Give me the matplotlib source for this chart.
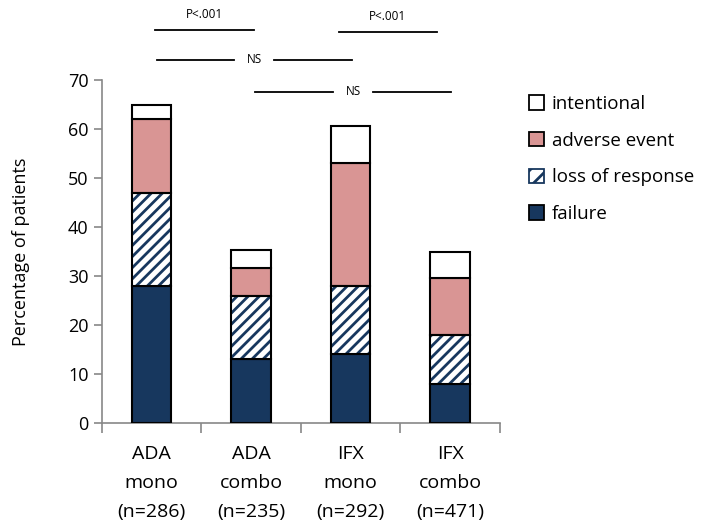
import matplotlib
matplotlib.use('Agg')
import matplotlib.pyplot as plt
import numpy as np
from matplotlib.patches import Patch

categories = ['ADA\nmono\n(n=286)', 'ADA\ncombo\n(n=235)', 'IFX\nmono\n(n=292)', 'IFX\ncombo\n(n=471)']
failure = [28, 13, 14, 8]
loss_of_response = [19, 13, 14, 10]
adverse_event = [15, 5.7, 25, 11.6]
intentional = [2.8, 3.6, 7.6, 5.2]
y_ticks = [0, 10, 20, 30, 40, 50, 60, 70]

NAVY = '#17375e'
PINK = '#d99594'

plt.rcParams['font.family'] = ['Open Sans', 'DejaVu Sans']
plt.rcParams['hatch.linewidth'] = 2.0

fig = plt.figure(figsize=(7.07, 5.31), dpi=100)
ax = fig.add_axes([0.144, 0.2034, 0.563, 0.646])

x = np.arange(len(categories))
w = 0.4
b1 = np.array(failure)
b2 = b1 + np.array(loss_of_response)
b3 = b2 + np.array(adverse_event)

ax.bar(x, failure, w, color=NAVY, edgecolor='black', lw=1.5, zorder=3)
# hatched layer: navy stripes, then a black outline on top
ax.bar(x, loss_of_response, w, bottom=b1, color='white', edgecolor=NAVY, hatch='///', lw=0, zorder=3)
ax.bar(x, loss_of_response, w, bottom=b1, fill=False, edgecolor='black', lw=1.5, zorder=4)
ax.bar(x, adverse_event, w, bottom=b2, color=PINK, edgecolor='black', lw=1.5, zorder=3)
ax.bar(x, intentional, w, bottom=b3, color='white', edgecolor='black', lw=1.5, zorder=3)

ax.set_xlim(-0.5, 3.5)
ax.set_ylim(0, 70)
ax.set_yticks(y_ticks)
ax.tick_params(axis='y', labelsize=13, colors='#888888', labelcolor='black', length=6, width=1.2)
ax.set_xticks([-0.5, 0.5, 1.5, 2.5, 3.5])
ax.set_xticklabels([])
ax.set_xticks(x, minor=True)
ax.set_xticklabels(categories, minor=True, fontsize=14, linespacing=1.78)
ax.tick_params(axis='x', which='major', colors='#888888', length=7, width=1.2)
ax.tick_params(axis='x', which='minor', length=0, pad=16)
for s in ['top', 'right']:
    ax.spines[s].set_visible(False)
for s in ['left', 'bottom']:
    ax.spines[s].set_color('#888888')
    ax.spines[s].set_linewidth(1.2)
ax.set_ylabel('Percentage of patients', fontsize=13, labelpad=27)

# significance brackets above the bars
def sig_line(x0, x1, y, label, split):
    if split:
        xm = (x0 + x1) / 2
        ax.plot([x0, xm - 0.2], [y, y], color='black', lw=1.3, clip_on=False)
        ax.plot([xm + 0.2, x1], [y, y], color='black', lw=1.3, clip_on=False)
        ax.text(xm, y, label, ha='center', va='center', fontsize=8.5)
    else:
        ax.plot([x0, x1], [y, y], color='black', lw=1.3, clip_on=False)
        ax.text((x0 + x1) / 2, y + 3.2, label, ha='center', va='center', fontsize=8.5)

sig_line(0.03, 1.03, 80.2, 'P<.001', False)
sig_line(1.88, 2.87, 79.8, 'P<.001', False)
sig_line(0.05, 2.01, 74.1, 'NS', True)
sig_line(1.04, 3.01, 67.6, 'NS', True)

handles = [
    Patch(facecolor='white', edgecolor='black', lw=1.3, label='intentional'),
    Patch(facecolor=PINK, edgecolor='black', lw=1.3, label='adverse event'),
    Patch(facecolor='white', edgecolor=NAVY, hatch='//', lw=1.3, label='loss of response'),
    Patch(facecolor=NAVY, edgecolor='black', lw=1.3, label='failure'),
]
fig.legend(handles=handles, loc='upper left', bbox_to_anchor=(0.725, 0.853), frameon=False,
           fontsize=13.5, handlelength=0.8, handleheight=0.8, handletextpad=0.4, labelspacing=1.0)

fig.savefig('out.png', dpi=100)
